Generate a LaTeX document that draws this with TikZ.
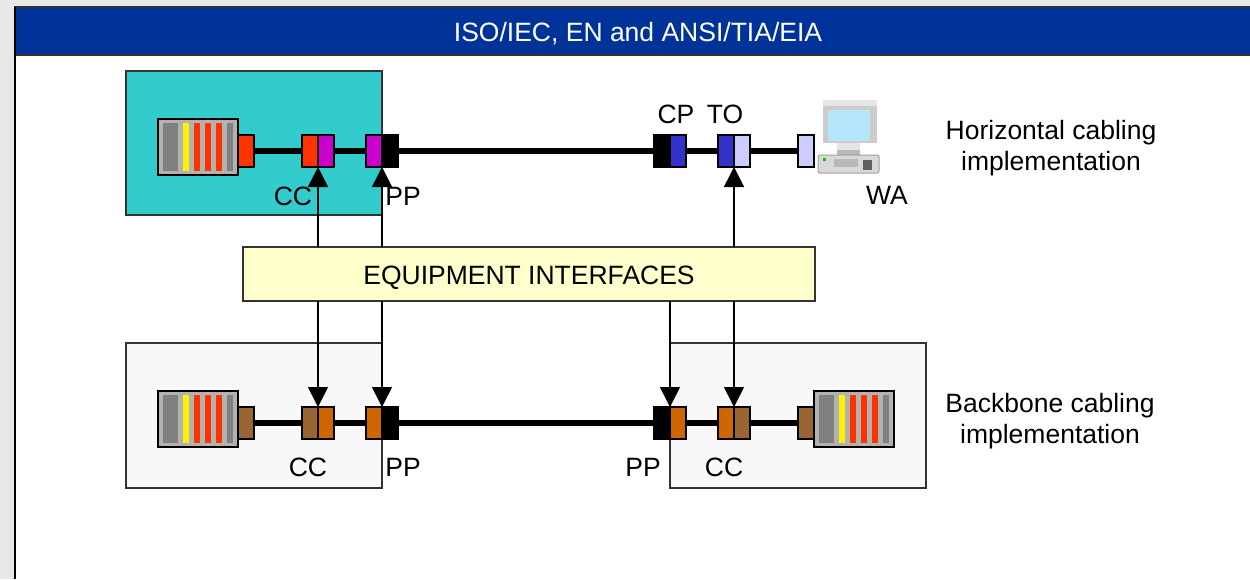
\documentclass[tikz,border=0pt]{standalone}
\usepackage{fontspec}
\setmainfont{Liberation Sans}
\usetikzlibrary{arrows.meta}
\definecolor{pagegray}{HTML}{E8E8E8}
\definecolor{titleblue}{HTML}{003399}
\definecolor{teal}{HTML}{33CCCC}
\definecolor{paleyellow}{HTML}{FFFFCC}
\definecolor{palegray}{HTML}{F8F8F8}
\definecolor{rackgray}{HTML}{B2B2B2}
\definecolor{bargray}{HTML}{808080}
\definecolor{redport}{HTML}{FF3300}
\definecolor{purpleport}{HTML}{CC00CC}
\definecolor{blueport}{HTML}{3333CC}
\definecolor{lightport}{HTML}{CCCCFF}
\definecolor{brownport}{HTML}{996633}
\definecolor{orangeport}{HTML}{CC6600}
\definecolor{edgegray}{HTML}{333333}
\tikzset{
  area/.style={draw=edgegray,line width=1.6pt,outer sep=0pt},
  portbox/.style={draw=black,line width=2.4pt,minimum width=16pt,minimum height=32pt,inner sep=0pt,outer sep=0pt},
  rack/.style={draw=black,line width=2.8pt,fill=rackgray,minimum width=80pt,minimum height=56pt,inner sep=0pt,outer sep=0pt},
  cable/.style={line width=5.6pt,black},
  feed/.style={line width=1.6pt,black,-{Triangle[length=20pt,width=20pt]}},
  lbl/.style={font=\fontsize{26.5}{31}\selectfont,text=black,inner sep=0pt,align=center},
  ifacebox/.style={draw=edgegray,line width=1.6pt,fill=paleyellow,minimum width=572pt,minimum height=54pt,inner sep=0pt,outer sep=0pt}
}
\newcommand{\rackbars}[1]{%
  \begin{scope}[shift={(#1)}]
    \fill[bargray] (-35.5,-24) rectangle (-20.5,24);
    \fill[yellow] (-15,-24) rectangle (-9,24);
    \fill[redport] (-4,-24) rectangle (2,24);
    \fill[redport] (7,-24) rectangle (13,24);
    \fill[redport] (18,-24) rectangle (24,24);
    \fill[bargray] (29,-24) rectangle (35,24);
  \end{scope}}
\begin{document}
\begin{tikzpicture}[x=1pt,y=-1pt]
\useasboundingbox (0,0) rectangle (1250,579);
% page
\fill[pagegray] (0,0) rectangle (1250,579);
\fill[white] (15,55) rectangle (1250,579);
\fill[titleblue] (15,7) rectangle (1250,55);
\draw[edgegray,line width=1.6pt] (14,7) -- (1250,7);
\draw[edgegray,line width=1.8pt] (14,55) -- (1250,55);
\draw[black,line width=1.8pt] (15,7) -- (15,579);
\node[lbl,text=white] (title) at (638,34) {ISO/IEC, EN and ANSI/TIA/EIA};
% areas
\node[area,fill=teal,minimum width=256pt,minimum height=144pt,inner sep=0pt] (hzone) at (254,143) {};
\node[area,fill=palegray,minimum width=256pt,minimum height=145pt,inner sep=0pt] (bzoneL) at (254,415.5) {};
\node[area,fill=palegray,minimum width=256pt,minimum height=145pt,inner sep=0pt] (bzoneR) at (798,415.5) {};
% horizontal row
\node[rack] (hrack) at (198,147) {};
\rackbars{198,147}
\node[portbox,fill=redport] (hplug) at (246,151) {};
\node[portbox,fill=redport] (hcca) at (310,151) {};
\node[portbox,fill=purpleport] (hccb) at (326,151) {};
\node[portbox,fill=purpleport] (hppa) at (374,151) {};
\node[portbox,fill=black] (hppb) at (390,151) {};
\node[portbox,fill=black] (hcpa) at (662,151) {};
\node[portbox,fill=blueport] (hcpb) at (678,151) {};
\node[portbox,fill=blueport] (htoa) at (726,151) {};
\node[portbox,fill=lightport] (htob) at (742,151) {};
\node[portbox,fill=lightport] (wplug) at (806,151) {};
\draw[cable] (hplug) -- (hcca);
\draw[cable] (hccb) -- (hppa);
\draw[cable] (hppb) -- (hcpa);
\draw[cable] (hcpb) -- (htoa);
\draw[cable] (htob) -- (wplug);
% backbone row
\node[rack] (brackL) at (198,419) {};
\rackbars{198,419}
\node[portbox,fill=brownport] (bplugL) at (246,423) {};
\node[portbox,fill=brownport] (bccLa) at (310,423) {};
\node[portbox,fill=orangeport] (bccLb) at (326,423) {};
\node[portbox,fill=orangeport] (bppLa) at (374,423) {};
\node[portbox,fill=black] (bppLb) at (390,423) {};
\node[portbox,fill=black] (bppRa) at (662,423) {};
\node[portbox,fill=orangeport] (bppRb) at (678,423) {};
\node[portbox,fill=orangeport] (bccRa) at (726,423) {};
\node[portbox,fill=brownport] (bccRb) at (742,423) {};
\node[portbox,fill=brownport] (bplugR) at (806,423) {};
\node[rack] (brackR) at (854,419) {};
\rackbars{854,419}
\draw[cable] (bplugL) -- (bccLa);
\draw[cable] (bccLb) -- (bppLa);
\draw[cable] (bppLb) -- (bppRa);
\draw[cable] (bppRb) -- (bccRa);
\draw[cable] (bccRb) -- (bplugR);
% interface box
\node[ifacebox] (iface) at (529,274) {};
\node[lbl] (ifacetext) at (529,278) {EQUIPMENT INTERFACES};
% arrows
\draw[feed] (iface.north -| hcca.south east) -- (hcca.south east);
\draw[feed] (iface.north -| hppa.south east) -- (hppa.south east);
\draw[feed] (iface.north -| htoa.south east) -- (htoa.south east);
\draw[feed] (iface.south -| bccLa.north east) -- (bccLa.north east);
\draw[feed] (iface.south -| bppLa.north east) -- (bppLa.north east);
\draw[feed] (iface.south -| bppRa.north east) -- (bppRa.north east);
\draw[feed] (iface.south -| bccRa.north east) -- (bccRa.north east);
% computer
\coordinate (pc) at (848,137);
\begin{scope}[shift={(pc)}]
  \fill[gray!40] (-25,-37) rectangle (29,6);
  \fill[gray!20] (-25,-37) rectangle (29,-31);
  \fill[cyan!30!white] (-20,-27) rectangle (22,4);
  \fill[gray!20] (-11,6) rectangle (12,18);
  \fill[gray!55] (-11,13) rectangle (12,18);
  \fill[gray!30,draw=gray!75,line width=1pt,rounded corners=2pt] (-30,18) rectangle (31,36);
  \fill[green!80!black] (-25,21) rectangle (-22,24);
  \fill[gray!55] (-14,22) rectangle (10,30);
  \fill[gray!75!black] (15,23) rectangle (24,33);
\end{scope}
% labels
\node[lbl] (ccH) at (293,196) {CC};
\node[lbl] (ppH) at (403,196) {PP};
\node[lbl] (cpH) at (676,114) {CP};
\node[lbl] (toH) at (725,114) {TO};
\node[lbl] (waH) at (887,195) {WA};
\node[lbl] (ccL) at (308,467) {CC};
\node[lbl] (ppL) at (403,467) {PP};
\node[lbl] (ppR) at (643,467) {PP};
\node[lbl] (ccR) at (724,467) {CC};
\node[lbl] (hcap) at (1051,148) {Horizontal cabling\\implementation};
\node[lbl] (bcap) at (1050,421) {Backbone cabling\\implementation};
\end{tikzpicture}
\end{document}
